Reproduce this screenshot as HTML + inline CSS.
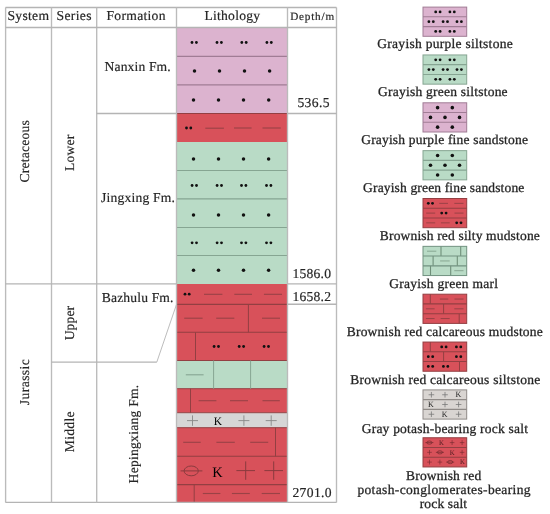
<!DOCTYPE html>
<html><head><meta charset="utf-8"><style>
html,body{margin:0;padding:0;background:#fff;}
svg{display:block;filter:blur(0.35px);}
text{font-family:"Liberation Serif",serif;text-rendering:geometricPrecision;}
</style></head><body>
<svg width="550" height="514" viewBox="0 0 550 514">
<rect width="550" height="514" fill="#fff"/>
<rect x="176.5" y="27.5" width="111.00" height="86.00" fill="#DCB3CF"/>
<rect x="176.5" y="113.5" width="111.00" height="28.50" fill="#D8515A"/>
<rect x="176.5" y="142" width="111.00" height="142.00" fill="#B9DBC6"/>
<rect x="176.5" y="284" width="111.00" height="76.50" fill="#D8515A"/>
<rect x="176.5" y="360.5" width="111.00" height="28.20" fill="#B9DBC6"/>
<rect x="176.5" y="388.7" width="111.00" height="24.00" fill="#D8515A"/>
<rect x="176.5" y="412.7" width="111.00" height="15.00" fill="#D6D6D6"/>
<rect x="176.5" y="427.7" width="111.00" height="74.80" fill="#D8515A"/>
<line x1="176.5" y1="56.3" x2="287.5" y2="56.3" stroke="#A07C95" stroke-width="1.2"/>
<line x1="176.5" y1="84.8" x2="287.5" y2="84.8" stroke="#A07C95" stroke-width="1.2"/>
<line x1="176.5" y1="170.5" x2="287.5" y2="170.5" stroke="#86A592" stroke-width="1.2"/>
<line x1="176.5" y1="198.8" x2="287.5" y2="198.8" stroke="#86A592" stroke-width="1.2"/>
<line x1="176.5" y1="227.5" x2="287.5" y2="227.5" stroke="#86A592" stroke-width="1.2"/>
<line x1="176.5" y1="255.5" x2="287.5" y2="255.5" stroke="#86A592" stroke-width="1.2"/>
<line x1="176.5" y1="113.5" x2="287.5" y2="113.5" stroke="#933F42" stroke-width="1"/>
<line x1="176.5" y1="304.4" x2="287.5" y2="304.4" stroke="#933F42" stroke-width="1.1"/>
<line x1="176.5" y1="332.3" x2="287.5" y2="332.3" stroke="#933F42" stroke-width="1.1"/>
<line x1="176.5" y1="456.3" x2="287.5" y2="456.3" stroke="#933F42" stroke-width="1.1"/>
<line x1="176.5" y1="484.6" x2="287.5" y2="484.6" stroke="#933F42" stroke-width="1.1"/>
<line x1="176.5" y1="360.5" x2="287.5" y2="360.5" stroke="#933F42" stroke-width="1"/>
<line x1="176.5" y1="388.7" x2="287.5" y2="388.7" stroke="#933F42" stroke-width="1"/>
<line x1="176.5" y1="412.7" x2="287.5" y2="412.7" stroke="#933F42" stroke-width="1"/>
<line x1="176.5" y1="427.7" x2="287.5" y2="427.7" stroke="#933F42" stroke-width="1"/>
<line x1="248.4" y1="304.4" x2="248.4" y2="332.3" stroke="#933F42" stroke-width="1"/>
<line x1="195.5" y1="332.3" x2="195.5" y2="360.5" stroke="#933F42" stroke-width="1"/>
<line x1="213.6" y1="360.5" x2="213.6" y2="388.7" stroke="#86A592" stroke-width="1"/>
<line x1="250.6" y1="360.5" x2="250.6" y2="388.7" stroke="#86A592" stroke-width="1"/>
<line x1="190.5" y1="388.7" x2="190.5" y2="412.7" stroke="#933F42" stroke-width="1"/>
<line x1="275.5" y1="427.7" x2="275.5" y2="456.3" stroke="#933F42" stroke-width="1"/>
<line x1="194.2" y1="484.6" x2="194.2" y2="502.5" stroke="#933F42" stroke-width="1"/>
<circle cx="192.0" cy="42.5" r="1.4" fill="#111"/>
<circle cx="196.39999999999998" cy="42.5" r="1.4" fill="#111"/>
<circle cx="217.0" cy="42.5" r="1.4" fill="#111"/>
<circle cx="221.39999999999998" cy="42.5" r="1.4" fill="#111"/>
<circle cx="241.8" cy="42.5" r="1.4" fill="#111"/>
<circle cx="246.2" cy="42.5" r="1.4" fill="#111"/>
<circle cx="266.90000000000003" cy="42.5" r="1.4" fill="#111"/>
<circle cx="271.3" cy="42.5" r="1.4" fill="#111"/>
<circle cx="194.5" cy="70.9" r="1.75" fill="#111"/>
<circle cx="219.5" cy="70.9" r="1.75" fill="#111"/>
<circle cx="244.5" cy="70.9" r="1.75" fill="#111"/>
<circle cx="269.6" cy="70.9" r="1.75" fill="#111"/>
<circle cx="193.5" cy="100" r="1.75" fill="#111"/>
<circle cx="218.5" cy="100" r="1.75" fill="#111"/>
<circle cx="243.5" cy="100" r="1.75" fill="#111"/>
<circle cx="268.7" cy="100" r="1.75" fill="#111"/>
<circle cx="186.5" cy="128" r="1.4" fill="#111"/>
<circle cx="190.8" cy="128" r="1.4" fill="#111"/>
<line x1="205.3" y1="128.2" x2="223.9" y2="128.2" stroke="#9A4246" stroke-width="1.1"/>
<line x1="234" y1="128" x2="251.6" y2="128" stroke="#9A4246" stroke-width="1.1"/>
<line x1="262.5" y1="128" x2="280.8" y2="128" stroke="#9A4246" stroke-width="1.1"/>
<circle cx="193.5" cy="159" r="1.75" fill="#111"/>
<circle cx="218.5" cy="159" r="1.75" fill="#111"/>
<circle cx="243.5" cy="159" r="1.75" fill="#111"/>
<circle cx="268.6" cy="159" r="1.75" fill="#111"/>
<circle cx="192.10000000000002" cy="185.5" r="1.4" fill="#111"/>
<circle cx="196.5" cy="185.5" r="1.4" fill="#111"/>
<circle cx="217.10000000000002" cy="185.5" r="1.4" fill="#111"/>
<circle cx="221.5" cy="185.5" r="1.4" fill="#111"/>
<circle cx="241.5" cy="185.5" r="1.4" fill="#111"/>
<circle cx="245.89999999999998" cy="185.5" r="1.4" fill="#111"/>
<circle cx="266.5" cy="185.5" r="1.4" fill="#111"/>
<circle cx="270.9" cy="185.5" r="1.4" fill="#111"/>
<circle cx="193.5" cy="215" r="1.75" fill="#111"/>
<circle cx="218.5" cy="215" r="1.75" fill="#111"/>
<circle cx="243.5" cy="215" r="1.75" fill="#111"/>
<circle cx="268.6" cy="215" r="1.75" fill="#111"/>
<circle cx="192.10000000000002" cy="242.8" r="1.4" fill="#111"/>
<circle cx="196.5" cy="242.8" r="1.4" fill="#111"/>
<circle cx="217.10000000000002" cy="242.8" r="1.4" fill="#111"/>
<circle cx="221.5" cy="242.8" r="1.4" fill="#111"/>
<circle cx="241.5" cy="242.8" r="1.4" fill="#111"/>
<circle cx="245.89999999999998" cy="242.8" r="1.4" fill="#111"/>
<circle cx="266.5" cy="242.8" r="1.4" fill="#111"/>
<circle cx="270.9" cy="242.8" r="1.4" fill="#111"/>
<circle cx="193.5" cy="270.2" r="1.75" fill="#111"/>
<circle cx="218.5" cy="270.2" r="1.75" fill="#111"/>
<circle cx="243.5" cy="270.2" r="1.75" fill="#111"/>
<circle cx="268.6" cy="270.2" r="1.75" fill="#111"/>
<circle cx="185" cy="294.2" r="1.4" fill="#111"/>
<circle cx="189.2" cy="294.2" r="1.4" fill="#111"/>
<line x1="204" y1="294.3" x2="222.4" y2="294.3" stroke="#9A4246" stroke-width="1.1"/>
<line x1="234.3" y1="294.3" x2="252" y2="294.3" stroke="#9A4246" stroke-width="1.1"/>
<line x1="263.9" y1="294.3" x2="282" y2="294.3" stroke="#9A4246" stroke-width="1.1"/>
<line x1="184.2" y1="318.2" x2="202.6" y2="318.2" stroke="#9A4246" stroke-width="1.1"/>
<line x1="216.2" y1="318.2" x2="234.3" y2="318.2" stroke="#9A4246" stroke-width="1.1"/>
<line x1="262" y1="318.2" x2="280" y2="318.2" stroke="#9A4246" stroke-width="1.1"/>
<circle cx="214.10000000000002" cy="346.5" r="1.4" fill="#111"/>
<circle cx="218.5" cy="346.5" r="1.4" fill="#111"/>
<circle cx="239.20000000000002" cy="346.5" r="1.4" fill="#111"/>
<circle cx="243.6" cy="346.5" r="1.4" fill="#111"/>
<circle cx="264.1" cy="346.5" r="1.4" fill="#111"/>
<circle cx="268.5" cy="346.5" r="1.4" fill="#111"/>
<line x1="185.8" y1="374.8" x2="203.6" y2="374.8" stroke="#86A592" stroke-width="1.1"/>
<line x1="198.6" y1="400.7" x2="216.4" y2="400.7" stroke="#9A4246" stroke-width="1.1"/>
<line x1="230" y1="400.7" x2="248" y2="400.7" stroke="#9A4246" stroke-width="1.1"/>
<line x1="262.5" y1="400.7" x2="279.8" y2="400.7" stroke="#9A4246" stroke-width="1.1"/>
<line x1="187.0" y1="420.6" x2="198.0" y2="420.6" stroke="#888" stroke-width="0.9"/>
<line x1="192.5" y1="415.40000000000003" x2="192.5" y2="425.8" stroke="#888" stroke-width="0.9"/>
<line x1="238.4" y1="420.6" x2="249.4" y2="420.6" stroke="#888" stroke-width="0.9"/>
<line x1="243.9" y1="415.40000000000003" x2="243.9" y2="425.8" stroke="#888" stroke-width="0.9"/>
<line x1="265.7" y1="420.6" x2="276.7" y2="420.6" stroke="#888" stroke-width="0.9"/>
<line x1="271.2" y1="415.40000000000003" x2="271.2" y2="425.8" stroke="#888" stroke-width="0.9"/>
<text x="218.0" y="424.7" font-size="11.5" text-anchor="middle">K</text>
<line x1="183.2" y1="442.3" x2="200.7" y2="442.3" stroke="#9A4246" stroke-width="1.1"/>
<line x1="216.4" y1="442.3" x2="234.8" y2="442.3" stroke="#9A4246" stroke-width="1.1"/>
<line x1="250.2" y1="442.3" x2="268.2" y2="442.3" stroke="#9A4246" stroke-width="1.1"/>
<ellipse cx="191.2" cy="470.9" rx="7.1" ry="4.9" fill="none" stroke="#8A3B3E" stroke-width="1"/>
<line x1="180.6" y1="470.9" x2="202.4" y2="470.9" stroke="#8A3B3E" stroke-width="1"/>
<text x="217.6" y="477.4" font-size="14.5" text-anchor="middle">K</text>
<line x1="236.39999999999998" y1="470.6" x2="255.0" y2="470.6" stroke="#8A3B3E" stroke-width="1"/>
<line x1="245.7" y1="461.40000000000003" x2="245.7" y2="479.8" stroke="#8A3B3E" stroke-width="1"/>
<line x1="264.4" y1="470.6" x2="283.0" y2="470.6" stroke="#8A3B3E" stroke-width="1"/>
<line x1="273.7" y1="461.40000000000003" x2="273.7" y2="479.8" stroke="#8A3B3E" stroke-width="1"/>
<line x1="202.8" y1="493.5" x2="220.4" y2="493.5" stroke="#9A4246" stroke-width="1.1"/>
<line x1="231.9" y1="493.5" x2="249.8" y2="493.5" stroke="#9A4246" stroke-width="1.1"/>
<line x1="261.7" y1="493.5" x2="280" y2="493.5" stroke="#9A4246" stroke-width="1.1"/>
<line x1="5.6" y1="7.5" x2="5.6" y2="502.5" stroke="#BBBBBB" stroke-width="1.35"/>
<line x1="336.5" y1="7.5" x2="336.5" y2="502.5" stroke="#BBBBBB" stroke-width="1.35"/>
<line x1="5.5" y1="7.5" x2="336.5" y2="7.5" stroke="#B4B4B4" stroke-width="1.35"/>
<line x1="5.5" y1="502.3" x2="336.5" y2="502.3" stroke="#B4B4B4" stroke-width="1.35"/>
<line x1="51.5" y1="7.5" x2="51.5" y2="502.5" stroke="#BBBBBB" stroke-width="1.35"/>
<line x1="96.7" y1="7.5" x2="96.7" y2="502.5" stroke="#BBBBBB" stroke-width="1.35"/>
<line x1="176.5" y1="7.5" x2="176.5" y2="502.5" stroke="#BBBBBB" stroke-width="1.35"/>
<line x1="287.5" y1="7.5" x2="287.5" y2="502.5" stroke="#BBBBBB" stroke-width="1.35"/>
<line x1="5.5" y1="27.5" x2="336.5" y2="27.5" stroke="#B4B4B4" stroke-width="1.35"/>
<line x1="96.5" y1="113.5" x2="176.5" y2="113.5" stroke="#B4B4B4" stroke-width="1.35"/>
<line x1="287.5" y1="113.5" x2="336.5" y2="113.5" stroke="#B4B4B4" stroke-width="1.35"/>
<line x1="5.5" y1="283.9" x2="176.5" y2="283.9" stroke="#B4B4B4" stroke-width="1.35"/>
<line x1="287.5" y1="283.9" x2="336.5" y2="283.9" stroke="#B4B4B4" stroke-width="1.35"/>
<line x1="287.5" y1="304.2" x2="336.5" y2="304.2" stroke="#B4B4B4" stroke-width="1.35"/>
<line x1="51.5" y1="362.1" x2="156.8" y2="362.1" stroke="#B4B4B4" stroke-width="1.35"/>
<line x1="156.8" y1="362.1" x2="176.5" y2="304.4" stroke="#B4B4B4" stroke-width="0.9"/>
<rect x="423.0" y="7.1" width="43.70" height="29.20" fill="#DCB3CF"/>
<circle cx="435.7" cy="11.95" r="1.4" fill="#111"/>
<circle cx="440.09999999999997" cy="11.95" r="1.4" fill="#111"/>
<circle cx="435.7" cy="31.450000000000003" r="1.4" fill="#111"/>
<circle cx="440.09999999999997" cy="31.450000000000003" r="1.4" fill="#111"/>
<circle cx="449.90000000000003" cy="11.95" r="1.4" fill="#111"/>
<circle cx="454.3" cy="11.95" r="1.4" fill="#111"/>
<circle cx="449.90000000000003" cy="31.450000000000003" r="1.4" fill="#111"/>
<circle cx="454.3" cy="31.450000000000003" r="1.4" fill="#111"/>
<circle cx="428.90000000000003" cy="21.7" r="1.4" fill="#111"/>
<circle cx="433.3" cy="21.7" r="1.4" fill="#111"/>
<circle cx="443.1" cy="21.7" r="1.4" fill="#111"/>
<circle cx="447.5" cy="21.7" r="1.4" fill="#111"/>
<circle cx="457.0" cy="21.7" r="1.4" fill="#111"/>
<circle cx="461.4" cy="21.7" r="1.4" fill="#111"/>
<line x1="423.0" y1="16.799999999999997" x2="466.7" y2="16.799999999999997" stroke="#A07C95" stroke-width="1.1"/>
<line x1="423.0" y1="26.6" x2="466.7" y2="26.6" stroke="#A07C95" stroke-width="1.1"/>
<rect x="423.0" y="7.1" width="43.70" height="29.2" fill="none" stroke="#A07C95" stroke-width="1"/>
<rect x="423.0" y="54.95" width="43.70" height="29.20" fill="#B9DBC6"/>
<circle cx="435.7" cy="59.800000000000004" r="1.4" fill="#111"/>
<circle cx="440.09999999999997" cy="59.800000000000004" r="1.4" fill="#111"/>
<circle cx="435.7" cy="79.30000000000001" r="1.4" fill="#111"/>
<circle cx="440.09999999999997" cy="79.30000000000001" r="1.4" fill="#111"/>
<circle cx="449.90000000000003" cy="59.800000000000004" r="1.4" fill="#111"/>
<circle cx="454.3" cy="59.800000000000004" r="1.4" fill="#111"/>
<circle cx="449.90000000000003" cy="79.30000000000001" r="1.4" fill="#111"/>
<circle cx="454.3" cy="79.30000000000001" r="1.4" fill="#111"/>
<circle cx="428.90000000000003" cy="69.55" r="1.4" fill="#111"/>
<circle cx="433.3" cy="69.55" r="1.4" fill="#111"/>
<circle cx="443.1" cy="69.55" r="1.4" fill="#111"/>
<circle cx="447.5" cy="69.55" r="1.4" fill="#111"/>
<circle cx="457.0" cy="69.55" r="1.4" fill="#111"/>
<circle cx="461.4" cy="69.55" r="1.4" fill="#111"/>
<line x1="423.0" y1="64.65" x2="466.7" y2="64.65" stroke="#86A592" stroke-width="1.1"/>
<line x1="423.0" y1="74.45" x2="466.7" y2="74.45" stroke="#86A592" stroke-width="1.1"/>
<rect x="423.0" y="54.95" width="43.70" height="29.2" fill="none" stroke="#86A592" stroke-width="1"/>
<rect x="423.0" y="102.8" width="43.70" height="29.20" fill="#DCB3CF"/>
<circle cx="437.6" cy="107.64999999999999" r="1.8" fill="#111"/>
<circle cx="437.6" cy="127.15" r="1.8" fill="#111"/>
<circle cx="452.3" cy="107.64999999999999" r="1.8" fill="#111"/>
<circle cx="452.3" cy="127.15" r="1.8" fill="#111"/>
<circle cx="430.5" cy="117.39999999999999" r="1.8" fill="#111"/>
<circle cx="445" cy="117.39999999999999" r="1.8" fill="#111"/>
<circle cx="459.5" cy="117.39999999999999" r="1.8" fill="#111"/>
<line x1="423.0" y1="112.5" x2="466.7" y2="112.5" stroke="#A07C95" stroke-width="1.1"/>
<line x1="423.0" y1="122.3" x2="466.7" y2="122.3" stroke="#A07C95" stroke-width="1.1"/>
<rect x="423.0" y="102.8" width="43.70" height="29.2" fill="none" stroke="#A07C95" stroke-width="1"/>
<rect x="423.0" y="150.65" width="43.70" height="29.20" fill="#B9DBC6"/>
<circle cx="437.6" cy="155.5" r="1.8" fill="#111"/>
<circle cx="437.6" cy="175.0" r="1.8" fill="#111"/>
<circle cx="452.3" cy="155.5" r="1.8" fill="#111"/>
<circle cx="452.3" cy="175.0" r="1.8" fill="#111"/>
<circle cx="430.5" cy="165.25" r="1.8" fill="#111"/>
<circle cx="445" cy="165.25" r="1.8" fill="#111"/>
<circle cx="459.5" cy="165.25" r="1.8" fill="#111"/>
<line x1="423.0" y1="160.35" x2="466.7" y2="160.35" stroke="#86A592" stroke-width="1.1"/>
<line x1="423.0" y1="170.15" x2="466.7" y2="170.15" stroke="#86A592" stroke-width="1.1"/>
<rect x="423.0" y="150.65" width="43.70" height="29.2" fill="none" stroke="#86A592" stroke-width="1"/>
<rect x="423.0" y="198.5" width="43.70" height="29.20" fill="#D8515A"/>
<circle cx="428.3" cy="203.35" r="1.4" fill="#111"/>
<circle cx="432.5" cy="203.35" r="1.4" fill="#111"/>
<line x1="439.2" y1="203.35" x2="448" y2="203.35" stroke="#9A4246" stroke-width="1.0"/>
<line x1="454.3" y1="203.35" x2="463.5" y2="203.35" stroke="#9A4246" stroke-width="1.0"/>
<line x1="426.2" y1="213.1" x2="435.2" y2="213.1" stroke="#9A4246" stroke-width="1.0"/>
<circle cx="441.7" cy="213.1" r="1.4" fill="#111"/>
<circle cx="446.1" cy="213.1" r="1.4" fill="#111"/>
<line x1="454.5" y1="213.1" x2="463.5" y2="213.1" stroke="#9A4246" stroke-width="1.0"/>
<line x1="426.2" y1="222.85" x2="435.2" y2="222.85" stroke="#9A4246" stroke-width="1.0"/>
<line x1="440.9" y1="222.85" x2="449.7" y2="222.85" stroke="#9A4246" stroke-width="1.0"/>
<circle cx="456.7" cy="222.85" r="1.4" fill="#111"/>
<circle cx="461" cy="222.85" r="1.4" fill="#111"/>
<line x1="423.0" y1="208.2" x2="466.7" y2="208.2" stroke="#933F42" stroke-width="1.1"/>
<line x1="423.0" y1="218.0" x2="466.7" y2="218.0" stroke="#933F42" stroke-width="1.1"/>
<rect x="423.0" y="198.5" width="43.70" height="29.2" fill="none" stroke="#933F42" stroke-width="1"/>
<rect x="423.0" y="246.35" width="43.70" height="29.20" fill="#B9DBC6"/>
<line x1="441.0" y1="246.35" x2="441.0" y2="256.05" stroke="#6F8F79" stroke-width="1.1"/>
<line x1="460.7" y1="246.35" x2="460.7" y2="256.05" stroke="#6F8F79" stroke-width="1.1"/>
<line x1="433.1" y1="256.05" x2="433.1" y2="265.85" stroke="#6F8F79" stroke-width="1.1"/>
<line x1="457.3" y1="256.05" x2="457.3" y2="265.85" stroke="#6F8F79" stroke-width="1.1"/>
<line x1="430.5" y1="265.85" x2="430.5" y2="275.55" stroke="#6F8F79" stroke-width="1.1"/>
<line x1="450.7" y1="265.85" x2="450.7" y2="275.55" stroke="#6F8F79" stroke-width="1.1"/>
<line x1="427" y1="251.2" x2="436.3" y2="251.2" stroke="#82A28C" stroke-width="0.9"/>
<line x1="440.1" y1="260.95" x2="449.7" y2="260.95" stroke="#82A28C" stroke-width="0.9"/>
<line x1="454.3" y1="270.7" x2="463.5" y2="270.7" stroke="#82A28C" stroke-width="0.9"/>
<line x1="423.0" y1="256.05" x2="466.7" y2="256.05" stroke="#729280" stroke-width="1.1"/>
<line x1="423.0" y1="265.85" x2="466.7" y2="265.85" stroke="#729280" stroke-width="1.1"/>
<rect x="423.0" y="246.35" width="43.70" height="29.2" fill="none" stroke="#729280" stroke-width="1"/>
<rect x="423.0" y="294.20000000000005" width="43.70" height="29.20" fill="#D8515A"/>
<line x1="430.3" y1="294.20000000000005" x2="430.3" y2="303.90000000000003" stroke="#933F42" stroke-width="1"/>
<line x1="443.6" y1="303.90000000000003" x2="443.6" y2="313.70000000000005" stroke="#933F42" stroke-width="1"/>
<line x1="459.2" y1="313.70000000000005" x2="459.2" y2="323.40000000000003" stroke="#933F42" stroke-width="1"/>
<line x1="439.9" y1="299.05000000000007" x2="448.3" y2="299.05000000000007" stroke="#9A4246" stroke-width="1.0"/>
<line x1="454.5" y1="299.05000000000007" x2="463.5" y2="299.05000000000007" stroke="#9A4246" stroke-width="1.0"/>
<line x1="425.9" y1="308.80000000000007" x2="434.6" y2="308.80000000000007" stroke="#9A4246" stroke-width="1.0"/>
<line x1="454.3" y1="308.80000000000007" x2="463.5" y2="308.80000000000007" stroke="#9A4246" stroke-width="1.0"/>
<line x1="425.9" y1="318.55000000000007" x2="434.6" y2="318.55000000000007" stroke="#9A4246" stroke-width="1.0"/>
<line x1="440.6" y1="318.55000000000007" x2="449.7" y2="318.55000000000007" stroke="#9A4246" stroke-width="1.0"/>
<line x1="423.0" y1="303.90000000000003" x2="466.7" y2="303.90000000000003" stroke="#933F42" stroke-width="1.1"/>
<line x1="423.0" y1="313.70000000000005" x2="466.7" y2="313.70000000000005" stroke="#933F42" stroke-width="1.1"/>
<rect x="423.0" y="294.20000000000005" width="43.70" height="29.2" fill="none" stroke="#933F42" stroke-width="1"/>
<rect x="423.0" y="342.05" width="43.70" height="29.20" fill="#D8515A"/>
<line x1="430.3" y1="342.05" x2="430.3" y2="351.75" stroke="#933F42" stroke-width="1"/>
<line x1="443.6" y1="351.75" x2="443.6" y2="361.55" stroke="#933F42" stroke-width="1"/>
<line x1="459.5" y1="361.55" x2="459.5" y2="371.25" stroke="#933F42" stroke-width="1"/>
<circle cx="441.7" cy="346.90000000000003" r="1.4" fill="#111"/>
<circle cx="446.09999999999997" cy="346.90000000000003" r="1.4" fill="#111"/>
<circle cx="456.40000000000003" cy="346.90000000000003" r="1.4" fill="#111"/>
<circle cx="460.8" cy="346.90000000000003" r="1.4" fill="#111"/>
<circle cx="428.3" cy="356.65000000000003" r="1.4" fill="#111"/>
<circle cx="432.7" cy="356.65000000000003" r="1.4" fill="#111"/>
<circle cx="456.40000000000003" cy="356.65000000000003" r="1.4" fill="#111"/>
<circle cx="460.8" cy="356.65000000000003" r="1.4" fill="#111"/>
<circle cx="428.3" cy="366.40000000000003" r="1.4" fill="#111"/>
<circle cx="432.7" cy="366.40000000000003" r="1.4" fill="#111"/>
<circle cx="443.40000000000003" cy="366.40000000000003" r="1.4" fill="#111"/>
<circle cx="447.8" cy="366.40000000000003" r="1.4" fill="#111"/>
<line x1="423.0" y1="351.75" x2="466.7" y2="351.75" stroke="#933F42" stroke-width="1.1"/>
<line x1="423.0" y1="361.55" x2="466.7" y2="361.55" stroke="#933F42" stroke-width="1.1"/>
<rect x="423.0" y="342.05" width="43.70" height="29.2" fill="none" stroke="#933F42" stroke-width="1"/>
<rect x="423.0" y="389.90000000000003" width="43.70" height="29.20" fill="#D9D5D2"/>
<line x1="428.59999999999997" y1="394.75000000000006" x2="434.2" y2="394.75000000000006" stroke="#7a7a7a" stroke-width="0.8"/>
<line x1="431.4" y1="391.95000000000005" x2="431.4" y2="397.55000000000007" stroke="#7a7a7a" stroke-width="0.8"/>
<line x1="442.2" y1="394.75000000000006" x2="447.8" y2="394.75000000000006" stroke="#7a7a7a" stroke-width="0.8"/>
<line x1="445" y1="391.95000000000005" x2="445" y2="397.55000000000007" stroke="#7a7a7a" stroke-width="0.8"/>
<text x="458.4" y="397.45000000000005" font-size="8.0" text-anchor="middle" fill="#222">K</text>
<text x="430.8" y="407.20000000000005" font-size="8.0" text-anchor="middle" fill="#222">K</text>
<line x1="442.2" y1="404.50000000000006" x2="447.8" y2="404.50000000000006" stroke="#7a7a7a" stroke-width="0.8"/>
<line x1="445" y1="401.70000000000005" x2="445" y2="407.30000000000007" stroke="#7a7a7a" stroke-width="0.8"/>
<line x1="455.8" y1="404.50000000000006" x2="461.40000000000003" y2="404.50000000000006" stroke="#7a7a7a" stroke-width="0.8"/>
<line x1="458.6" y1="401.70000000000005" x2="458.6" y2="407.30000000000007" stroke="#7a7a7a" stroke-width="0.8"/>
<line x1="428.59999999999997" y1="414.25000000000006" x2="434.2" y2="414.25000000000006" stroke="#7a7a7a" stroke-width="0.8"/>
<line x1="431.4" y1="411.45000000000005" x2="431.4" y2="417.05000000000007" stroke="#7a7a7a" stroke-width="0.8"/>
<text x="444.7" y="416.95000000000005" font-size="8.0" text-anchor="middle" fill="#222">K</text>
<line x1="455.8" y1="414.25000000000006" x2="461.40000000000003" y2="414.25000000000006" stroke="#7a7a7a" stroke-width="0.8"/>
<line x1="458.6" y1="411.45000000000005" x2="458.6" y2="417.05000000000007" stroke="#7a7a7a" stroke-width="0.8"/>
<line x1="423.0" y1="399.6" x2="466.7" y2="399.6" stroke="#8f8a87" stroke-width="1.1"/>
<line x1="423.0" y1="409.40000000000003" x2="466.7" y2="409.40000000000003" stroke="#8f8a87" stroke-width="1.1"/>
<rect x="423.0" y="389.90000000000003" width="43.70" height="29.2" fill="none" stroke="#8f8a87" stroke-width="1"/>
<rect x="423.0" y="437.75000000000006" width="43.70" height="29.20" fill="#D8515A"/>
<ellipse cx="429.4" cy="442.6000000000001" rx="2.6" ry="1.6" fill="none" stroke="#72292e" stroke-width="0.7"/>
<line x1="425.4" y1="442.6000000000001" x2="433.4" y2="442.6000000000001" stroke="#72292e" stroke-width="0.7"/>
<text x="441.4" y="444.9000000000001" font-size="6.8" text-anchor="middle" fill="#4a1a1e">K</text>
<line x1="449.8" y1="442.6000000000001" x2="454.40000000000003" y2="442.6000000000001" stroke="#72292e" stroke-width="0.6"/>
<line x1="452.1" y1="440.2000000000001" x2="452.1" y2="445.00000000000006" stroke="#72292e" stroke-width="0.6"/>
<line x1="459.8" y1="442.6000000000001" x2="464.40000000000003" y2="442.6000000000001" stroke="#72292e" stroke-width="0.6"/>
<line x1="462.1" y1="440.2000000000001" x2="462.1" y2="445.00000000000006" stroke="#72292e" stroke-width="0.6"/>
<line x1="427.2" y1="452.3500000000001" x2="431.8" y2="452.3500000000001" stroke="#72292e" stroke-width="0.6"/>
<line x1="429.5" y1="449.9500000000001" x2="429.5" y2="454.75000000000006" stroke="#72292e" stroke-width="0.6"/>
<ellipse cx="439.9" cy="452.3500000000001" rx="2.6" ry="1.6" fill="none" stroke="#72292e" stroke-width="0.7"/>
<line x1="435.9" y1="452.3500000000001" x2="443.9" y2="452.3500000000001" stroke="#72292e" stroke-width="0.7"/>
<text x="452.3" y="454.6500000000001" font-size="6.8" text-anchor="middle" fill="#4a1a1e">K</text>
<line x1="459.8" y1="452.3500000000001" x2="464.40000000000003" y2="452.3500000000001" stroke="#72292e" stroke-width="0.6"/>
<line x1="462.1" y1="449.9500000000001" x2="462.1" y2="454.75000000000006" stroke="#72292e" stroke-width="0.6"/>
<line x1="427.2" y1="462.1000000000001" x2="431.8" y2="462.1000000000001" stroke="#72292e" stroke-width="0.6"/>
<line x1="429.5" y1="459.7000000000001" x2="429.5" y2="464.50000000000006" stroke="#72292e" stroke-width="0.6"/>
<line x1="437.59999999999997" y1="462.1000000000001" x2="442.2" y2="462.1000000000001" stroke="#72292e" stroke-width="0.6"/>
<line x1="439.9" y1="459.7000000000001" x2="439.9" y2="464.50000000000006" stroke="#72292e" stroke-width="0.6"/>
<ellipse cx="450.2" cy="462.1000000000001" rx="2.6" ry="1.6" fill="none" stroke="#72292e" stroke-width="0.7"/>
<line x1="446.2" y1="462.1000000000001" x2="454.2" y2="462.1000000000001" stroke="#72292e" stroke-width="0.7"/>
<text x="462.5" y="464.4000000000001" font-size="6.8" text-anchor="middle" fill="#4a1a1e">K</text>
<line x1="423.0" y1="447.45000000000005" x2="466.7" y2="447.45000000000005" stroke="#933F42" stroke-width="1.1"/>
<line x1="423.0" y1="457.25000000000006" x2="466.7" y2="457.25000000000006" stroke="#933F42" stroke-width="1.1"/>
<rect x="423.0" y="437.75000000000006" width="43.70" height="29.2" fill="none" stroke="#933F42" stroke-width="1"/>
<g fill="#262626" stroke="#262626">
<text x="7.50" y="20.2" font-size="13.6" stroke-width="0.18" textLength="41.50" lengthAdjust="spacing">System</text>
<text x="56.50" y="20.2" font-size="13.6" stroke-width="0.18" textLength="35.00" lengthAdjust="spacing">Series</text>
<text x="106.50" y="20.2" font-size="13.6" stroke-width="0.18" textLength="59.00" lengthAdjust="spacing">Formation</text>
<text x="204.50" y="20.2" font-size="13.6" stroke-width="0.18" textLength="55.50" lengthAdjust="spacing">Lithology</text>
<text x="290.20" y="20.1" font-size="11.2" stroke-width="0.18" textLength="43.90" lengthAdjust="spacing">Depth/m</text>
<text x="104.50" y="70.9" font-size="13.6" stroke-width="0.18" textLength="66.20" lengthAdjust="spacing">Nanxin Fm.</text>
<text x="101.10" y="202.4" font-size="13.6" stroke-width="0.18" textLength="73.80" lengthAdjust="spacing">Jingxing Fm.</text>
<text x="101.70" y="301.9" font-size="13.6" stroke-width="0.18" textLength="71.80" lengthAdjust="spacing">Bazhulu Fm.</text>
<text x="297.40" y="107" font-size="13.6" stroke-width="0.18" textLength="32.10" lengthAdjust="spacing">536.5</text>
<text x="292.40" y="278" font-size="13.6" stroke-width="0.18" textLength="38.60" lengthAdjust="spacing">1586.0</text>
<text x="292.40" y="301.2" font-size="13.6" stroke-width="0.18" textLength="38.60" lengthAdjust="spacing">1658.2</text>
<text x="292.40" y="497" font-size="13.6" stroke-width="0.18" textLength="39.20" lengthAdjust="spacing">2701.0</text>
<text transform="translate(29.4,182.40) rotate(-90)" x="0" y="0" font-size="13.6" stroke-width="0.18" textLength="62.20" lengthAdjust="spacing">Cretaceous</text>
<text transform="translate(74.1,170.90) rotate(-90)" x="0" y="0" font-size="13.6" stroke-width="0.18" textLength="36.20" lengthAdjust="spacing">Lower</text>
<text transform="translate(28.7,405.20) rotate(-90)" x="0" y="0" font-size="13.6" stroke-width="0.18" textLength="46.00" lengthAdjust="spacing">Jurassic</text>
<text transform="translate(73.7,340.30) rotate(-90)" x="0" y="0" font-size="13.6" stroke-width="0.18" textLength="34.40" lengthAdjust="spacing">Upper</text>
<text transform="translate(73.7,452.20) rotate(-90)" x="0" y="0" font-size="13.6" stroke-width="0.18" textLength="40.80" lengthAdjust="spacing">Middle</text>
<text transform="translate(138.4,483.40) rotate(-90)" x="0" y="0" font-size="13.6" stroke-width="0.18" textLength="98.60" lengthAdjust="spacing">Hepingxiang Fm.</text>
<text x="377.30" y="48.2" font-size="13.5" stroke-width="0.28" textLength="135.40" lengthAdjust="spacing">Grayish purple siltstone</text>
<text x="378.10" y="96.4" font-size="13.5" stroke-width="0.28" textLength="129.50" lengthAdjust="spacing">Grayish green siltstone</text>
<text x="361.20" y="143.8" font-size="13.5" stroke-width="0.28" textLength="166.70" lengthAdjust="spacing">Grayish purple fine sandstone</text>
<text x="363.10" y="192.0" font-size="13.5" stroke-width="0.28" textLength="161.20" lengthAdjust="spacing">Grayish green fine sandstone</text>
<text x="379.80" y="240.2" font-size="13.5" stroke-width="0.28" textLength="160.00" lengthAdjust="spacing">Brownish red silty mudstone</text>
<text x="389.20" y="288.2" font-size="13.5" stroke-width="0.28" textLength="108.80" lengthAdjust="spacing">Grayish green marl</text>
<text x="346.70" y="336.4" font-size="13.5" stroke-width="0.28" textLength="196.10" lengthAdjust="spacing">Brownish red calcareous mudstone</text>
<text x="350.30" y="384.4" font-size="13.5" stroke-width="0.28" textLength="189.90" lengthAdjust="spacing">Brownish red calcareous siltstone</text>
<text x="361.70" y="432.5" font-size="13.5" stroke-width="0.28" textLength="166.20" lengthAdjust="spacing">Gray potash-bearing rock salt</text>
<text x="406.00" y="480.4" font-size="13.5" stroke-width="0.28" textLength="75.20" lengthAdjust="spacing">Brownish red</text>
<text x="357.40" y="494.3" font-size="13.5" stroke-width="0.28" textLength="173.10" lengthAdjust="spacing">potash-conglomerates-bearing</text>
<text x="419.70" y="508" font-size="13.5" stroke-width="0.28" textLength="47.40" lengthAdjust="spacing">rock salt</text>
</g>
</svg>
</body></html>
